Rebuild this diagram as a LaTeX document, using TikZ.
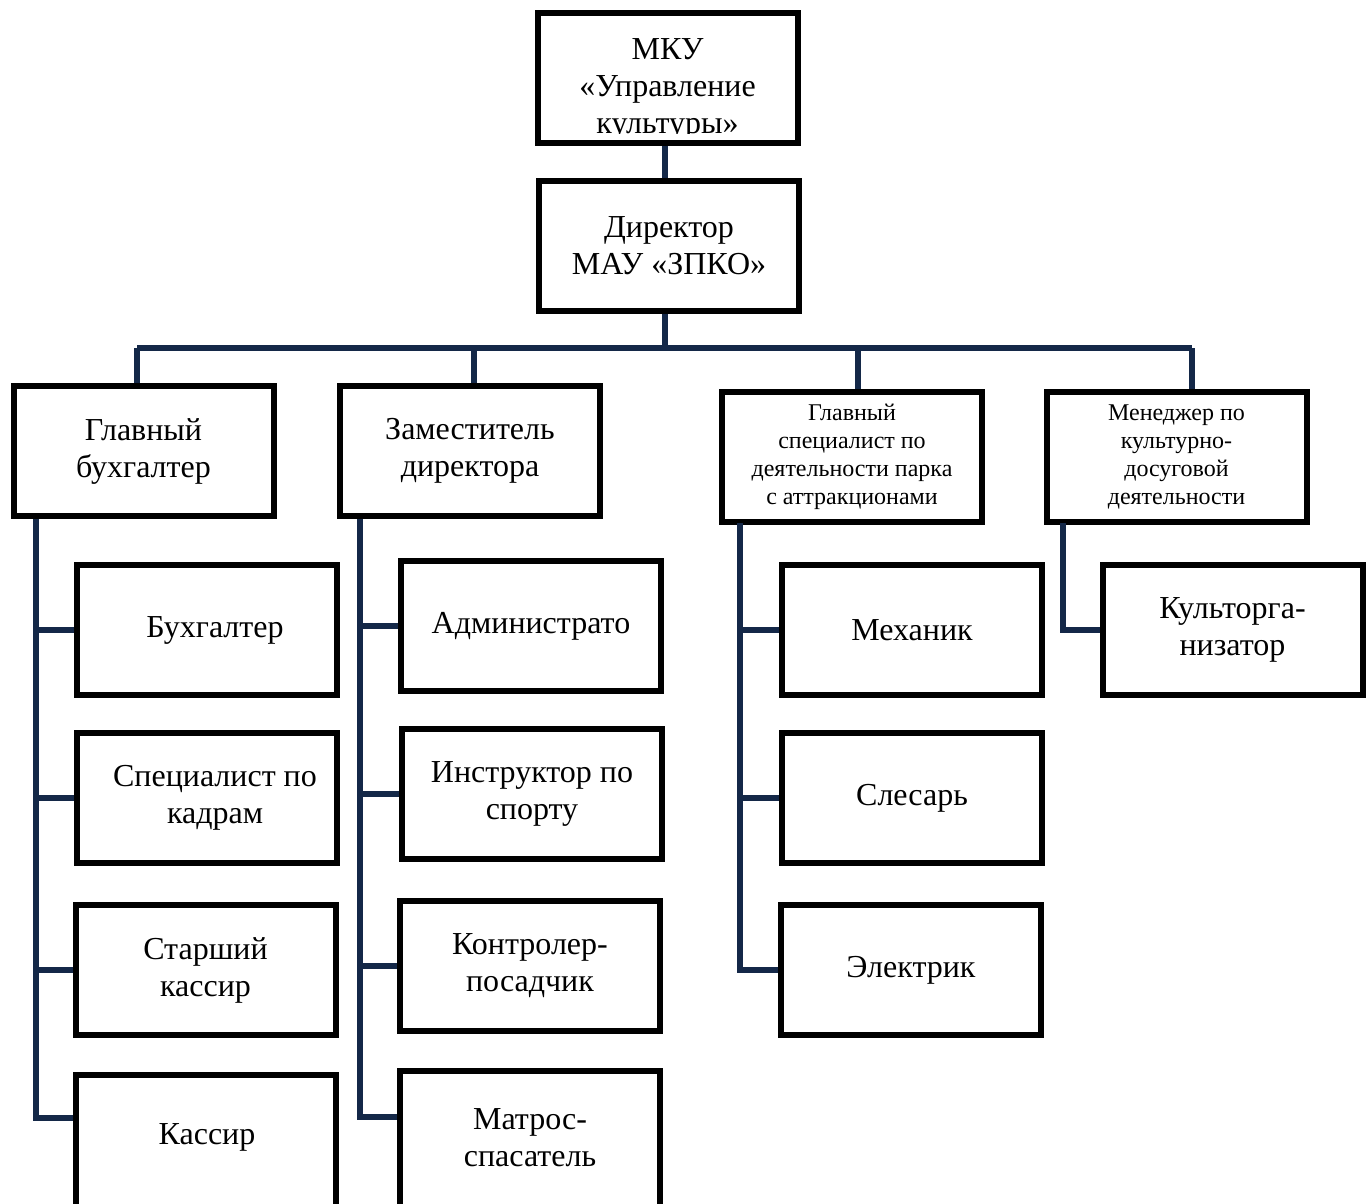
\documentclass[tikz,border=0pt]{standalone}
\usepackage{fontspec}
\setmainfont{Liberation Serif}
\definecolor{navy}{RGB}{20,40,72}
\tikzset{
  box/.style={draw=black, line width=3pt, minimum width=130pt, minimum height=65pt,
    inner sep=0pt, align=center, font=\fontsize{16}{18.5}\selectfont},
  smallbox/.style={box, font=\fontsize{12}{14}\selectfont},
  txt/.style={align=center, inner sep=0pt, font=\fontsize{16}{18.5}\selectfont},
  link/.style={draw=navy, line width=2.6pt}
}
\begin{document}
\begin{tikzpicture}[x=0.5pt, y=-0.5pt]
\useasboundingbox (0,0) rectangle (1371,1204);
\fill[white] (0,0) rectangle (1371,1204);

% top box with clipped text
\begin{scope}
  \clip (540,14) rectangle (796,134);
  \node[txt] (mkutext) at (667.5,89) {МКУ\\«Управление\\культуры»};
\end{scope}
\node[box] (mku) at (667.5,78.5) {};

\node[box] (dir) at (669,246) {Директор\\МАУ «ЗПКО»};

\node[box] (gb)  at (143.5,451) {Главный\\бухгалтер};
\node[box] (zd)  at (470,451) {Заместитель\\директора};
\node[smallbox] (gs)  at (852,457) {Главный\\специалист по\\деятельности парка\\с аттракционами};
\node[smallbox] (mkd) at (1176.5,457) {Менеджер по\\культурно-\\досуговой\\деятельности};

\node[box] (buh)  at (207,630) {\hspace*{8pt}Бухгалтер};
\node[box] (kad)  at (207,798) {\hspace*{8pt}Специалист по\\\hspace*{8pt}кадрам};
\node[box] (skas) at (205.5,970) {Старший\\кассир};
\node[box, minimum height=80pt, anchor=north] (kas) at (205.5,1072) {};
\node[txt] (kastext) at (207,1137) {Кассир};

\node[box] (adm) at (531,626) {Администрато};
\node[box] (ins) at (532,794) {Инструктор по\\спорту};
\node[box] (kon) at (530,966) {Контролер-\\посадчик};
\node[box, minimum height=80pt, anchor=north] (mat) at (530,1068) {};
\node[txt] (mattext) at (530,1138) {Матрос-\\спасатель};

\node[box] (mex)  at (912,630) {Механик};
\node[box] (sles) at (912,798) {Слесарь};
\node[box] (el)   at (911,970) {Электрик};

\node[box] (kult) at (1232.5,630) {Культорга-\\низатор};

% bus coordinates
\coordinate (mid) at (665,348);
\coordinate (d1) at (137,348);
\coordinate (d2) at (474,348);
\coordinate (d3) at (858,348);
\coordinate (d4) at (1192,348);
\coordinate (s1) at (36,519);
\coordinate (s2) at (360,519);
\coordinate (s3) at (740,523);
\coordinate (s4) at (1063,523);

\draw[link] (mku.south -| mid) -- (dir.north -| mid);
\draw[link] (dir.south -| mid) -- (mid);
\draw[link] (d1) -- (d4);
\draw[link] (d1) -- (d1 |- gb.north);
\draw[link] (d2) -- (d2 |- zd.north);
\draw[link] (d3) -- (d3 |- gs.north);
\draw[link] (d4) -- (d4 |- mkd.north);

% left spine
\draw[link] (s1) |- ([yshift=-23pt]kas.north west);
\draw[link] (s1 |- buh.west) -- (buh.west);
\draw[link] (s1 |- kad.west) -- (kad.west);
\draw[link] (s1 |- skas.west) -- (skas.west);

% second spine
\draw[link] (s2) |- ([yshift=-24.5pt]mat.north west);
\draw[link] (s2 |- adm.west) -- (adm.west);
\draw[link] (s2 |- ins.west) -- (ins.west);
\draw[link] (s2 |- kon.west) -- (kon.west);

% third spine
\draw[link] (s3) |- (el.west);
\draw[link] (s3 |- mex.west) -- (mex.west);
\draw[link] (s3 |- sles.west) -- (sles.west);

% fourth spine
\draw[link] (s4) |- (kult.west);
\end{tikzpicture}
\end{document}
